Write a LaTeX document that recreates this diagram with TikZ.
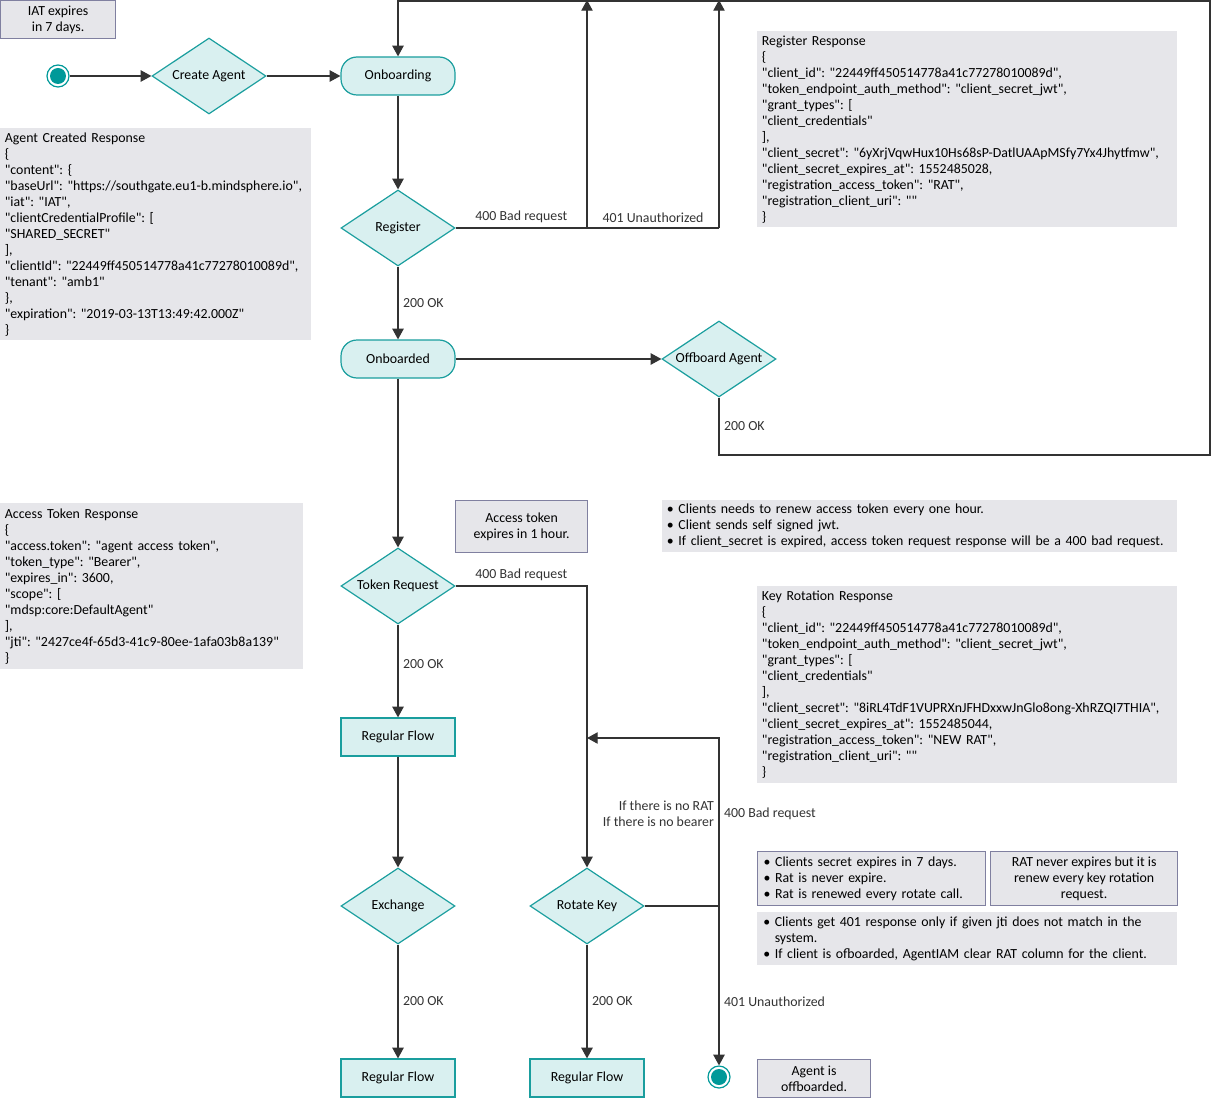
\documentclass[tikz,border=0pt]{standalone}
\usepackage{fontspec}
\setmainfont{Carlito}[Ligatures=TeXOff]
\frenchspacing
\usetikzlibrary{shapes.geometric,arrows.meta,positioning}

\definecolor{flowfill}{HTML}{D9F0F0}
\definecolor{flowline}{HTML}{1A9E9E}
\definecolor{dotteal}{HTML}{009999}
\definecolor{notefill}{HTML}{E6E6EA}
\definecolor{noteline}{HTML}{8080A0}
\definecolor{wire}{HTML}{333333}

\begin{document}
\begin{tikzpicture}[x=0.75pt,y=-0.75pt,font=\fontsize{10.4}{12}\selectfont,
	decision/.style={diamond,draw=flowline,fill=flowfill,line width=0.9pt,minimum width=85.5pt,minimum height=57pt,inner sep=0pt},
	state/.style={rectangle,rounded corners=12pt,draw=flowline,fill=flowfill,line width=0.9pt,minimum width=85.5pt,minimum height=28.5pt},
	action/.style={rectangle,draw=flowline,fill=flowfill,line width=0.9pt,minimum width=85.5pt,minimum height=28.5pt},
	dot/.style={circle,draw=dotteal,fill=white,line width=0.9pt,minimum size=16.5pt,inner sep=0pt},
	note/.style={rectangle,draw=noteline,fill=notefill,line width=0.9pt,anchor=north west,align=center,inner sep=0pt},
	json/.style={rectangle,fill=notefill,anchor=north west,align=left,inner xsep=3.5pt,inner ysep=0pt},
	flow/.style={-{Triangle[length=8pt,width=8.5pt]},wire,line width=0.9pt},
	wireline/.style={wire,line width=0.9pt}]
	\useasboundingbox (0,0) rectangle (1212,1098);

	% activity nodes
	\node[dot] (start) at (58,76) {};
	\fill[dotteal] (start.center) circle (6pt);
	\node[decision,label=center:Create Agent] (create) at (209,76) {};
	\node[state] (onboarding) at (398,76) {Onboarding};
	\node[decision,label=center:Register] (register) at (398,228) {};
	\node[state] (onboarded) at (398,359) {Onboarded};
	\node[decision,label=center:Offboard Agent] (offboard) at (719,359) {};
	\node[decision,label=center:Token Request] (token) at (398,586) {};
	\node[action] (regflowA) at (398,737) {Regular Flow};
	\node[decision,label=center:Exchange] (exchange) at (398,906) {};
	\node[action] (regflowB) at (398,1078) {Regular Flow};
	\node[decision,label=center:Rotate Key] (rotate) at (587,906) {};
	\node[action] (regflowC) at (587,1078) {Regular Flow};
	\node[dot] (stop) at (719,1077) {};
	\fill[dotteal] (stop.center) circle (6pt);

	% corners of the connectors
	\coordinate (badfork) at (587,228);
	\coordinate (unauthfork) at (719,228);
	\coordinate (badtop) at (587,0);
	\coordinate (unauthtop) at (719,0);
	\coordinate (offA) at (719,455);
	\coordinate (offB) at (1210,455);
	\coordinate (offC) at (1210,1);
	\coordinate (offD) at (398,1);
	\coordinate (tokcorner) at (587,586);
	\coordinate (split) at (719,906);
	\coordinate (retrycorner) at (719,738);
	\coordinate (retrytip) at (587,738);

	% connectors
	\draw[flow] (start) -- (create.west);
	\draw[flow] (create.east) -- (onboarding.west);
	\draw[flow] (onboarding.south) -- (register.north);
	\draw[flow] (register.south) -- node[right] {200 OK} (onboarded.north);
	\draw[wireline] (register.east) -- node[above] {400 Bad request} (badfork) -- node[above] {401 Unauthorized} (unauthfork);
	\draw[flow] (badfork) -- (badtop);
	\draw[flow] (unauthfork) -- (unauthtop);
	\draw[flow] (onboarded.east) -- (offboard.west);
	\draw[flow] (offboard.south) -- node[right] {200 OK} (offA) -- (offB) -- (offC) -- (offD) -- (onboarding.north);
	\draw[flow] (onboarded.south) -- (token.north);
	\draw[flow] (token.south) -- node[right,pos=0.43] {200 OK} (regflowA.north);
	\draw[flow] (token.east) -- node[above] {400 Bad request} (tokcorner) -- (rotate.north);
	\draw[flow] (regflowA.south) -- (exchange.north);
	\draw[flow] (exchange.south) -- node[right] {200 OK} (regflowB.north);
	\draw[flow] (rotate.south) -- node[right] {200 OK} (regflowC.north);
	\draw[wireline] (rotate.east) -- (split);
	\draw[flow] (split) -- node[left,align=right,pos=0.55] {If there is no RAT\\If there is no bearer} node[right,pos=0.55] {400 Bad request} (retrycorner) -- (retrytip);
	\draw[flow] (split) -- node[right,pos=0.6] {401 Unauthorized} (stop.north);

	% notes
	\node[note,minimum width=86.25pt,minimum height=28.5pt] (iatnote) at (0,0) {IAT expires\\in 7 days.};
	\node[note,minimum width=99pt,minimum height=39pt] (tokennote) at (455,500) {Access token\\expires in 1 hour.};
	\node[note,minimum width=84.75pt,minimum height=28.5pt] (offnote) at (757,1059) {Agent is\\offboarded.};
	\node[note,minimum width=140.25pt,minimum height=40.5pt] (ratnote) at (990,851) {RAT never expires but it is\\renew every key rotation\\request.};
	\node[note,align=left,text width=162pt,inner xsep=4.5pt,minimum height=40.5pt] (secretnote) at (757,851) {• Clients secret expires in 7 days.\\• Rat is never expire.\\• Rat is renewed every rotate call.};
	\node[json,text width=379pt,minimum height=39pt] (renewnote) at (662,500) {• Clients needs to renew access token every one hour.\\• Client sends self signed jwt.\\• If client\_secret is expired, access token request response will be a 400 bad request.};
	\node[json,text width=306pt,inner xsep=4.5pt,minimum height=39.75pt] (jtinote) at (757,912) {• Clients get 401 response only if given jti does not match in the\\\hphantom{• }system.\\• If client is ofboarded, AgentIAM clear RAT column for the client.};

	% responses
	\node[json,text width=226.25pt,minimum height=159pt] (createdresp) at (0,128) {Agent Created Response\\\{\\"content": \{\\"baseUrl": "https://southgate.eu1-b.mindsphere.io",\\"iat": "IAT",\\"clientCredentialProfile": [\\"SHARED\_SECRET"\\],\\"clientId": "22449ff450514778a41c77278010089d",\\"tenant": "amb1"\\\},\\"expiration": "2019-03-13T13:49:42.000Z"\\\}};
	\node[json,text width=308pt,minimum height=147pt] (registerresp) at (757,31) {Register Response\\\{\\"client\_id": "22449ff450514778a41c77278010089d",\\"token\_endpoint\_auth\_method": "client\_secret\_jwt",\\"grant\_types": [\\"client\_credentials"\\],\\"client\_secret": "6yXrjVqwHux10Hs68sP-DatlUAApMSfy7Yx4Jhytfmw",\\"client\_secret\_expires\_at": 1552485028,\\"registration\_access\_token": "RAT",\\"registration\_client\_uri": ""\\\}};
	\node[json,text width=220.25pt,minimum height=124.5pt] (tokenresp) at (0,503) {Access Token Response\\\{\\"access.token": "agent access token",\\"token\_type": "Bearer",\\"expires\_in": 3600,\\"scope": [\\"mdsp:core:DefaultAgent"\\],\\"jti": "2427ce4f-65d3-41c9-80ee-1afa03b8a139"\\\}};
	\node[json,text width=308pt,minimum height=147.75pt] (rotateresp) at (757,586) {Key Rotation Response\\\{\\"client\_id": "22449ff450514778a41c77278010089d",\\"token\_endpoint\_auth\_method": "client\_secret\_jwt",\\"grant\_types": [\\"client\_credentials"\\],\\"client\_secret": "8iRL4TdF1VUPRXnJFHDxxwJnGlo8ong-XhRZQI7THIA",\\"client\_secret\_expires\_at": 1552485044,\\"registration\_access\_token": "NEW RAT",\\"registration\_client\_uri": ""\\\}};
\end{tikzpicture}
\end{document}
